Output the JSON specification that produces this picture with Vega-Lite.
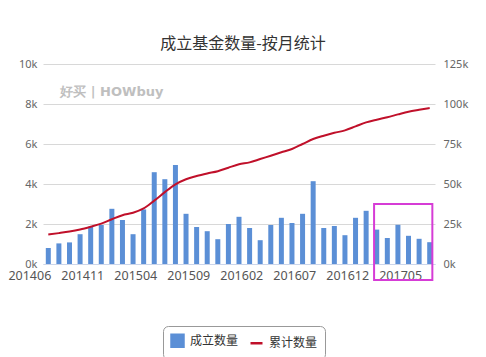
{
  "$schema": "https://vega.github.io/schema/vega-lite/v6.json",
  "autosize": "none",
  "width": 392,
  "height": 200,
  "padding": {"left": 43, "top": 64, "right": 51, "bottom": 93},
  "background": "white",
  "title": {"text": "成立基金数量-按月统计", "font": "Noto Sans CJK SC", "fontSize": 16, "fontWeight": "normal", "color": "#333", "anchor": "middle", "dx": 4, "dy": 16, "baseline": "bottom", "offset": 6},
  "config": {"view": {"stroke": null}, "axis": {"labelFont": "Noto Sans", "labelColor": "#666", "grid": false, "ticks": false, "domain": false, "title": null}},
  "datasets": {
    "monthly": [
      {"month": "201406", "count": 800, "total": 18400},
      {"month": "201407", "count": 1030, "total": 19300},
      {"month": "201408", "count": 1080, "total": 20300},
      {"month": "201409", "count": 1490, "total": 21600},
      {"month": "201410", "count": 1860, "total": 23300},
      {"month": "201411", "count": 1950, "total": 25200},
      {"month": "201412", "count": 2760, "total": 28000},
      {"month": "201501", "count": 2200, "total": 30500},
      {"month": "201502", "count": 1490, "total": 32000},
      {"month": "201503", "count": 2730, "total": 34700},
      {"month": "201504", "count": 4590, "total": 39600},
      {"month": "201505", "count": 4240, "total": 44900},
      {"month": "201506", "count": 4950, "total": 49800},
      {"month": "201507", "count": 2510, "total": 53000},
      {"month": "201508", "count": 1850, "total": 55000},
      {"month": "201509", "count": 1640, "total": 56600},
      {"month": "201510", "count": 1240, "total": 58000},
      {"month": "201511", "count": 2000, "total": 60200},
      {"month": "201512", "count": 2360, "total": 62300},
      {"month": "201601", "count": 1800, "total": 63500},
      {"month": "201602", "count": 1190, "total": 65600},
      {"month": "201603", "count": 1950, "total": 67700},
      {"month": "201604", "count": 2310, "total": 69800},
      {"month": "201605", "count": 2050, "total": 71900},
      {"month": "201606", "count": 2510, "total": 75000},
      {"month": "201607", "count": 4140, "total": 78100},
      {"month": "201608", "count": 1800, "total": 80200},
      {"month": "201609", "count": 1900, "total": 82000},
      {"month": "201610", "count": 1440, "total": 83500},
      {"month": "201611", "count": 2310, "total": 86000},
      {"month": "201612", "count": 2660, "total": 88500},
      {"month": "201701", "count": 1720, "total": 90200},
      {"month": "201702", "count": 1300, "total": 91700},
      {"month": "201703", "count": 1960, "total": 93500},
      {"month": "201704", "count": 1410, "total": 95200},
      {"month": "201705", "count": 1260, "total": 96400},
      {"month": "201706", "count": 1090, "total": 97500}
    ],
    "box": [{"start": "201701", "end": "201706", "lo": -800, "hi": 3000}],
    "mark": [{"month": "201412", "y": 8600, "label": "好买 | HOWbuy"}]
  },
  "layer": [
    {
      "data": {"name": "monthly"},
      "mark": {"type": "bar", "width": 5},
      "encoding": {
        "x": {"field": "month", "type": "ordinal", "sort": null, "scale": {"paddingInner": 0.5, "paddingOuter": 0.25},
          "axis": {"values": ["201406", "201411", "201504", "201509", "201602", "201607", "201612", "201705"], "labelAlign": "right", "labelOffset": 3, "labelAngle": 0, "labelFontSize": 12.5, "labelColor": "#555", "labelPadding": 5, "domain": true, "domainColor": "#ccd6eb"}},
        "y": {"field": "count", "type": "quantitative", "scale": {"domain": [0, 10000], "nice": false},
          "axis": {"values": [0, 2000, 4000, 6000, 8000, 10000], "labelExpr": "datum.value/1000 + 'k'", "grid": true, "gridColor": "#d8d8d8", "labelFontSize": 11, "labelPadding": 6,
            "encode": {"labels": {"update": {"dy": {"signal": "datum.value === 0 ? -5 : 0"}}}}}},
        "color": {"datum": "成立数量", "type": "nominal",
          "scale": {"domain": ["成立数量", "累计数量"], "range": ["#5b8fd6", "#c0102a"]},
          "legend": {"title": null, "orient": "none", "legendX": 120, "legendY": 262, "direction": "horizontal",
            "labelFont": "Noto Sans CJK SC", "labelFontSize": 12, "labelColor": "#333", "symbolSize": 144, "columnPadding": 6, "labelOffset": 5,
            "padding": 7, "strokeColor": "#999", "cornerRadius": 5, "fillColor": "white",
            "encode": {"symbols": {"update": {
              "shape": {"signal": "datum.value === '累计数量' ? 'stroke' : 'square'"},
              "stroke": {"signal": "datum.value === '累计数量' ? '#c0102a' : 'transparent'"},
              "strokeWidth": {"value": 2.5}}}}}}
      }
    },
    {
      "data": {"name": "box"},
      "mark": {"type": "rect", "fill": null, "stroke": "#d63cd6", "strokeWidth": 2, "clip": false},
      "encoding": {
        "x": {"field": "start", "type": "ordinal", "bandPosition": 0},
        "x2": {"field": "end", "bandPosition": 1},
        "y": {"field": "lo", "type": "quantitative", "scale": {"domain": [0, 10000], "nice": false}, "axis": null},
        "y2": {"field": "hi"}
      }
    },
    {
      "data": {"name": "mark"},
      "mark": {"type": "text", "font": "DejaVu Sans", "fontSize": 13, "fontWeight": "bold", "color": "#b0b0b0", "opacity": 0.8, "dx": 0},
      "encoding": {
        "x": {"field": "month", "type": "ordinal"},
        "y": {"field": "y", "type": "quantitative", "scale": {"domain": [0, 10000], "nice": false}, "axis": null},
        "text": {"field": "label"}
      }
    },
    {
      "data": {"name": "monthly"},
      "mark": {"type": "line", "interpolate": "monotone", "strokeWidth": 2},
      "encoding": {
        "x": {"field": "month", "type": "ordinal", "sort": null},
        "y": {"field": "total", "type": "quantitative", "scale": {"domain": [0, 125000], "nice": false},
          "axis": {"orient": "right", "values": [0, 25000, 50000, 75000, 100000, 125000], "labelExpr": "datum.value/1000 + 'k'", "labelFontSize": 11, "labelPadding": 8}},
        "color": {"datum": "累计数量", "type": "nominal"}
      }
    }
  ],
  "resolve": {"scale": {"y": "independent"}}
}
